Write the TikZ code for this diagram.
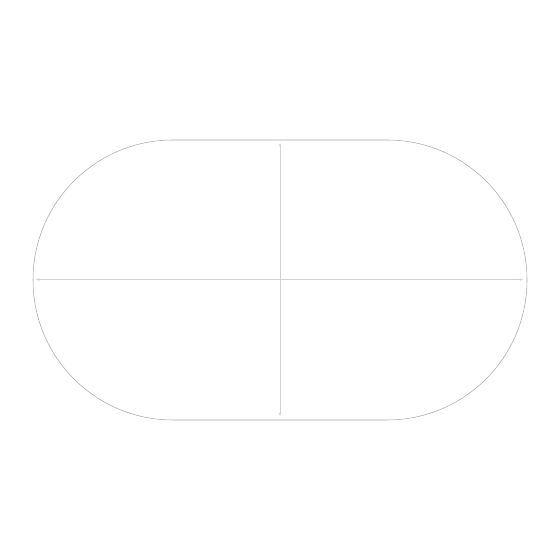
\documentclass[tikz,border=0pt]{standalone}
\usepackage{tikz}
\usetikzlibrary{arrows.meta}

\begin{document}
\begin{tikzpicture}[x=0.02cm, y=0.02cm]
                    \useasboundingbox (0, 0) rectangle (560, 560);
                    \draw[gray!70, line width=0.3pt] (173, 420) -- (387, 420)
                        arc[start angle=90, end angle=-90, radius=140]
                        -- (173, 140)
                        arc[start angle=270, end angle=90, radius=140] -- cycle;

                    \coordinate (w) at (36, 280.5);
                    \coordinate (e) at (523, 280.5);
                    \coordinate (n) at (280, 417);
                    \coordinate (s) at (280, 144);

                    % \node at (280, 280.5) {};
                    \draw[gray!35, line width=0.3pt, {Stealth[length=2pt,width=1.5pt]}-{Stealth[length=2pt,width=1.5pt]}] (w) -- (e);
                    \draw[gray!35, line width=0.3pt, {Stealth[length=2pt,width=1.5pt]}-{Stealth[length=2pt,width=1.5pt]}] (n) -- (s);
                \end{tikzpicture}
\end{document}
